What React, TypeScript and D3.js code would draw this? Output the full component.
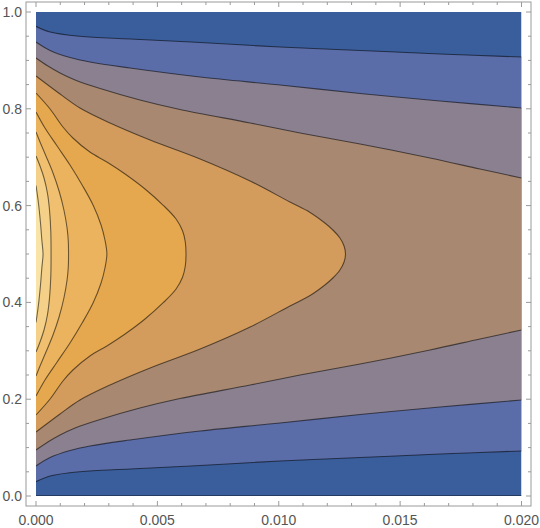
import React from 'react';
import * as d3 from 'd3';

const W = 540;
const H = 528;

// contour levels and band colours (band k lies between level k-1 and level k)
const levels = [0.1, 0.2, 0.3, 0.4, 0.5, 0.6, 0.7, 0.8, 0.9];
const bandColors = [
  '#3A5E9C', '#5B6DA8', '#8A8090', '#A88870', '#D49C5C',
  '#E6A84E', '#ECB35E', '#F0C070', '#F5D088', '#FAE3A6',
];

const xTicks = [0, 0.005, 0.01, 0.015, 0.02];
const xTickLabels = ['0.000', '0.005', '0.010', '0.015', '0.020'];
const yTicks = [0, 0.2, 0.4, 0.6, 0.8, 1.0];
const yTickLabels = ['0.0', '0.2', '0.4', '0.6', '0.8', '1.0'];

// Lower halves of the contour lines, [t, x]; the field is symmetric about x = 0.5
const c1: [number, number][] = [
  [0, 0.0295], [0.00058, 0.0413], [0.00181, 0.0502], [0.00387, 0.0558], [0.00676, 0.063],
  [0.01005, 0.0723], [0.01335, 0.0795], [0.01664, 0.0868], [0.02, 0.093],
];
const c2: [number, number][] = [
  [0, 0.062], [0.00058, 0.0795], [0.0014, 0.094], [0.00222, 0.1033], [0.00387, 0.1157],
  [0.00676, 0.1343], [0.01005, 0.1508], [0.01335, 0.1684], [0.01664, 0.1839], [0.02, 0.1983],
];
const c3: [number, number][] = [
  [0, 0.095], [0.00049, 0.1116], [0.00099, 0.126], [0.00161, 0.1405], [0.00264, 0.1581],
  [0.00428, 0.1818], [0.00593, 0.2014], [0.00882, 0.2293], [0.01088, 0.25], [0.01335, 0.2727],
  [0.01623, 0.3017], [0.01829, 0.3244], [0.02, 0.343],
];
const c4: [number, number][] = [
  [0, 0.1322], [0.00099, 0.1694], [0.00181, 0.1983], [0.00305, 0.2293], [0.0047, 0.2645],
  [0.00676, 0.3037], [0.00882, 0.3492], [0.01046, 0.3926], [0.01129, 0.4142], [0.0119, 0.436],
  [0.01223, 0.4504], [0.01252, 0.4669], [0.01269, 0.4835], [0.01275, 0.5],
];
const c5: [number, number][] = [
  [0, 0.1674], [0.00058, 0.2004], [0.00111, 0.2376], [0.00152, 0.2603], [0.00222, 0.2893],
  [0.00292, 0.3099], [0.00367, 0.3347], [0.00449, 0.3657], [0.00523, 0.3988], [0.00577, 0.4277],
  [0.00604, 0.4525], [0.00615, 0.4752], [0.00618, 0.5],
];
const c6: [number, number][] = [
  [0, 0.2066], [0.00037, 0.2397], [0.00087, 0.2769], [0.0014, 0.3161], [0.0019, 0.3574],
  [0.00235, 0.3988], [0.00268, 0.4401], [0.00284, 0.4711], [0.00292, 0.5],
];
const c7: [number, number][] = [
  [0, 0.2479], [0.000165, 0.2686], [0.00041, 0.2975], [0.0007, 0.3326], [0.00095, 0.3698],
  [0.00115, 0.4091], [0.00128, 0.4463], [0.00133, 0.4731], [0.00134, 0.5],
];
const c8: [number, number][] = [
  [0, 0.2975], [0.000165, 0.3182], [0.00033, 0.343], [0.00047, 0.374], [0.00056, 0.4112],
  [0.00061, 0.4545], [0.00062, 0.5],
];
const c9: [number, number][] = [
  [0, 0.3585], [0.0001, 0.3946], [0.000185, 0.436], [0.00024, 0.4711], [0.00029, 0.5],
];

const contours = [c1, c2, c3, c4, c5, c6, c7, c8, c9];

const x = d3.scaleLinear().domain([0, 0.02]).range([36, 521.5]);
const y = d3.scaleLinear().domain([0, 1]).range([496, 12]);

const line = d3
  .line<[number, number]>()
  .x((d) => x(d[0]))
  .y((d) => y(d[1]))
  .curve(d3.curveCatmullRom.alpha(0.5));

const mirror = (pts: [number, number][]) => pts.map(([t, v]) => [t, 1 - v] as [number, number]);

function buildShapes() {
  return contours.map((lower) => {
    const upper = mirror(lower);
    const closed = Math.abs(lower[lower.length - 1][1] - 0.5) < 1e-9;
    if (closed) {
      const full = lower.concat(upper.slice().reverse().slice(1));
      const d = line(full) as string;
      return { fill: d + 'Z', strokes: [d] };
    }
    const a = line(lower) as string;
    const b = (line(upper.slice().reverse()) as string).replace(/^M/, 'L');
    return { fill: a + b + 'Z', strokes: [a, line(upper) as string] };
  });
}

export default function App() {
  const shapes = buildShapes();
  const x0 = 26, x1 = 531, y0 = 2, y1 = 506;
  const xMinor = d3.range(0, 21).map((i) => i * 0.001);
  const yMinor = d3.range(0, 21).map((i) => i * 0.05);
  const frame = '#9a9a9a';
  const font = "'Liberation Sans', Arial, sans-serif";
  return (
    <svg width={W} height={H} style={{ position: 'absolute', left: 0, top: 0, background: '#fff' }}>
      <defs>
        <clipPath id="plotclip">
          <rect x={x(0)} y={y(1)} width={x(0.02) - x(0)} height={y(0) - y(1)} />
        </clipPath>
      </defs>
      <g clipPath="url(#plotclip)">
        <rect x={x(0)} y={y(1)} width={x(0.02) - x(0)} height={y(0) - y(1)} fill={bandColors[0]} />
        {shapes.map((s, i) => (
          <path key={'f' + i} d={s.fill} fill={bandColors[i + 1]} stroke="none" />
        ))}
        {shapes.map((s, i) =>
          s.strokes.map((d, j) => (
            <path key={'s' + i + '-' + j} d={d} fill="none" stroke="rgba(0,0,0,0.55)" strokeWidth={1.1} />
          ))
        )}
        <line x1={x(0)} x2={x(0.02)} y1={y(0)} y2={y(0)} stroke="rgba(0,0,0,0.5)" strokeWidth={1.6} />
      </g>
      {/* frame */}
      <rect x={x0} y={y0} width={x1 - x0} height={y1 - y0} fill="none" stroke={frame} strokeWidth={1} />
      {xMinor.map((t, i) => {
        const major = i % 5 === 0;
        const len = major ? 5 : 3;
        return (
          <g key={'xt' + i}>
            <line x1={x(t)} x2={x(t)} y1={y1} y2={y1 - len} stroke={frame} />
            <line x1={x(t)} x2={x(t)} y1={y0} y2={y0 + len} stroke={frame} />
          </g>
        );
      })}
      {yMinor.map((v, i) => {
        const major = i % 4 === 0;
        const len = major ? 5 : 3;
        return (
          <g key={'yt' + i}>
            <line x1={x0} x2={x0 + len} y1={y(v)} y2={y(v)} stroke={frame} />
            <line x1={x1} x2={x1 - len} y1={y(v)} y2={y(v)} stroke={frame} />
          </g>
        );
      })}
      {xTicks.map((t, i) => (
        <text key={'xl' + i} x={x(t)} y={525} textAnchor="middle" fontFamily={font} fontSize={14} fill="#555">
          {xTickLabels[i]}
        </text>
      ))}
      {yTicks.map((v, i) => (
        <text key={'yl' + i} x={22} y={y(v)} dy="0.35em" textAnchor="end" fontFamily={font} fontSize={14} fill="#555">
          {yTickLabels[i]}
        </text>
      ))}
    </svg>
  );
}
